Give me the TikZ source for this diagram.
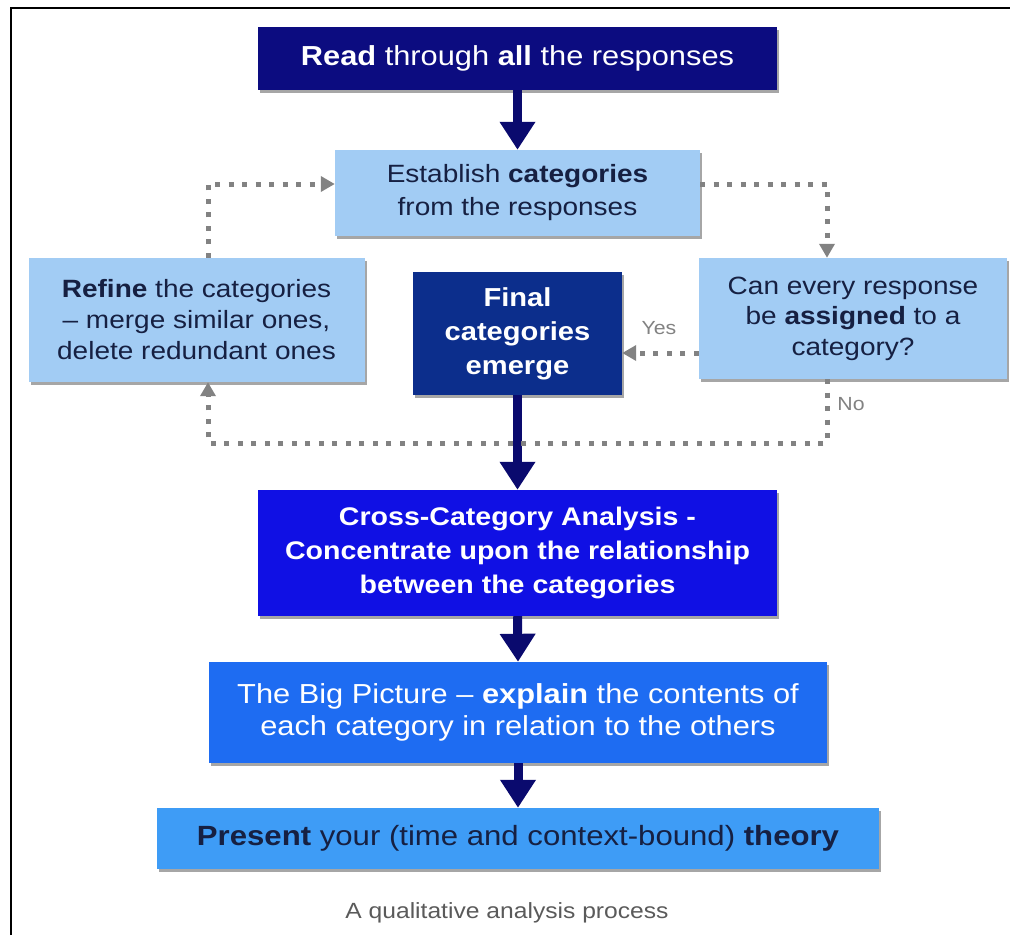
\documentclass[tikz,border=0pt]{standalone}
\usepackage{fontspec}
\setmainfont{Liberation Sans}[FakeStretch=1.12]
\usetikzlibrary{arrows.meta,shadows}

% palette
\definecolor{readnavy}{RGB}{12,12,128}
\definecolor{finalnavy}{RGB}{12,46,140}
\definecolor{crossblue}{RGB}{16,16,228}
\definecolor{bigblue}{RGB}{30,108,242}
\definecolor{presentblue}{RGB}{62,156,246}
\definecolor{paleblue}{RGB}{162,204,244}
\definecolor{inktext}{RGB}{22,32,66}
\definecolor{arrownavy}{RGB}{10,10,110}
\definecolor{loopgray}{RGB}{130,130,130}
\definecolor{captiongray}{RGB}{90,90,90}

\tikzset{
  flow/.style={rectangle, inner sep=0pt, align=center,
    drop shadow={shadow xshift=2pt, shadow yshift=-3pt, fill=black, opacity=0.35}},
  palebox/.style={flow, fill=paleblue, text=inktext},
  darkbox/.style={flow, text=white},
  mainarrow/.style={draw=arrownavy, line width=9pt,
    -{Triangle[width=34pt,length=28pt]}},
  loopline/.style={draw=loopgray, line width=5pt, dash pattern=on 5pt off 8.5pt,
    -{Triangle[width=15pt,length=14pt]}},
  loopnote/.style={text=loopgray, font=\fontsize{19}{22}\selectfont}
}

\begin{document}
\begin{tikzpicture}[x=1pt,y=-1pt]
\useasboundingbox (0,0) rectangle (1010,935);

% frame
\draw[line width=2.5pt] (11,935) -- (11,8) -- (1010,8);

% boxes
\node[darkbox, fill=readnavy, minimum width=519pt, minimum height=63pt,
  font=\fontsize{27.5}{32}\selectfont] (read) at (517.5,58.5)
  {\bfseries Read\mdseries{} through \bfseries all\mdseries{} the responses};

\node[palebox, minimum width=365pt, minimum height=86pt,
  font=\fontsize{25}{33}\selectfont] (establish) at (517.5,193)
  {Establish \textbf{categories}\\from the responses};

\node[palebox, minimum width=336pt, minimum height=124pt,
  font=\fontsize{25}{31}\selectfont] (refine) at (196.5,320)
  {\textbf{Refine} the categories\\– merge similar ones,\\delete redundant ones};

\node[darkbox, fill=finalnavy, minimum width=209pt, minimum height=123pt,
  font=\bfseries\fontsize{26}{34}\selectfont] (final) at (517.5,333.5)
  {Final\\categories\\emerge};

\node[palebox, minimum width=308pt, minimum height=121pt,
  font=\fontsize{25}{30.5}\selectfont] (can) at (853,318.5)
  {Can every response\\be \textbf{assigned} to a\\category?};

\node[darkbox, fill=crossblue, minimum width=519pt, minimum height=126pt,
  font=\bfseries\fontsize{25.5}{34}\selectfont] (cross) at (517.5,553)
  {Cross-Category Analysis -\\Concentrate upon the relationship\\between the categories};

\node[darkbox, fill=bigblue, minimum width=618pt, minimum height=101pt,
  font=\fontsize{27.5}{32}\selectfont] (big) at (518,712.5)
  {The Big Picture – \textbf{explain} the contents of\\each category in relation to the others};

\node[palebox, fill=presentblue, text=inktext, minimum width=722pt, minimum height=61pt,
  font=\fontsize{27.8}{32}\selectfont] (present) at (518,838.5)
  {\textbf{Present} your (time and context-bound) \textbf{theory}};

\node[text=captiongray, font=\fontsize{22}{26}\selectfont] (caption) at (507,913)
  {A qualitative analysis process};

% main flow
\draw[mainarrow] (read.south) -- (establish.north);
\draw[mainarrow] (final.south) -- (cross.north);
\draw[mainarrow] (cross.south) -- (big.north);
\draw[mainarrow] (big.south) -- (present.north);

% feedback loop
\coordinate (lx) at (208,0);
\coordinate (rx) at (827,0);
\coordinate (topy) at (0,184);
\coordinate (yesy) at (0,353);
\coordinate (boty) at (0,443);

\draw[loopline] (refine.north -| lx) |- (establish.west |- topy);
\draw[loopline] (establish.east |- topy) -| (can.north -| rx);
\draw[loopline] (can.west |- yesy) -- (final.east |- yesy);
\draw[loopline] (can.south -| rx) -- (rx |- boty) -| (refine.south -| lx);

\node[loopnote] (yes) at (659,328) {Yes};
\node[loopnote] (no) at (851,404) {No};
\end{tikzpicture}
\end{document}
